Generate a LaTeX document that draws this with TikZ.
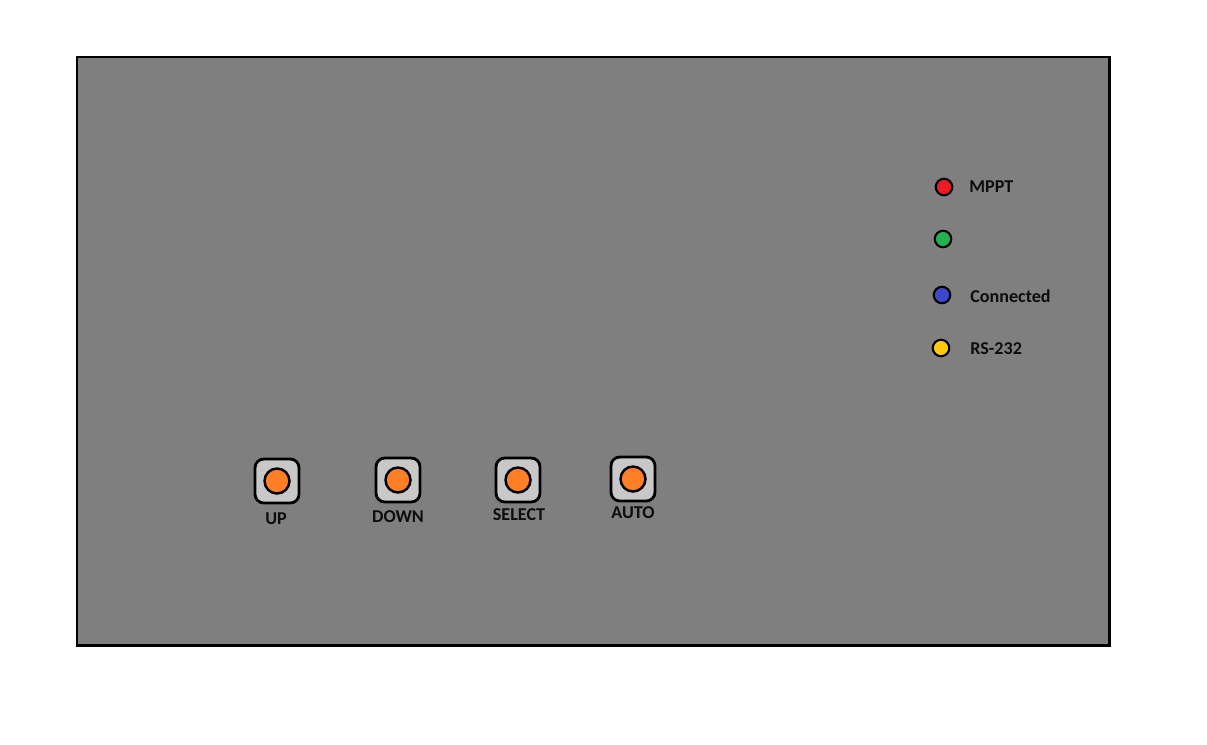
\documentclass[tikz,border=0pt]{standalone}
\usepackage{fontspec}
\setmainfont{Carlito}
\usetikzlibrary{positioning}
\definecolor{panel}{HTML}{7F7F7F}
\definecolor{keycap}{HTML}{C8C8C8}
\definecolor{keyorange}{HTML}{FF7F27}
\definecolor{ledred}{HTML}{ED1C24}
\definecolor{ledgreen}{HTML}{22B14C}
\definecolor{ledblue}{HTML}{3F48CC}
\definecolor{ledyellow}{HTML}{FFC90E}

\tikzset{
  keybox/.style={draw, line width=1.6pt, fill=keycap, rounded corners=5pt, minimum size=0.88cm, inner sep=0pt},
  keydot/.style={circle, draw, line width=1.4pt, fill=keyorange, minimum size=0.5cm, inner sep=0pt},
  led/.style={circle, draw, line width=1.2pt, minimum size=0.33cm, inner sep=0pt},
  lbl/.style={font=\bfseries\fontsize{10.3}{12}\selectfont, text=black!95, inner sep=0pt}
}

\begin{document}
\begin{tikzpicture}[x=0.02cm, y=-0.02cm]
  \useasboundingbox (0,0) rectangle (1207,744);
  \node[draw, line width=1.7pt, fill=panel, minimum width=20.66cm, minimum height=11.78cm, anchor=north west, inner sep=0pt] (pnl) at (75.5,55.5) {};

  % push buttons
  \node[keybox] (kup) at (277,481) {};
  \node[keydot] (dup) at (kup) {};
  \node[keybox] (kdown) at (398,480) {};
  \node[keydot] (ddown) at (kdown) {};
  \node[keybox] (ksel) at (518,480) {};
  \node[keydot] (dsel) at (ksel) {};
  \node[keybox] (kauto) at (633,479) {};
  \node[keydot] (dauto) at (kauto) {};

  \node[lbl] (tup) at (276,519) {UP};
  \node[lbl] (tdown) at (398,517) {DOWN};
  \node[lbl] (tsel) at (519,515) {SELECT};
  \node[lbl] (tauto) at (633,513) {AUTO};

  % status LEDs
  \node[led, fill=ledred] (lmppt) at (944,187) {};
  \node[led, fill=ledgreen] (lgreen) at (943,239) {};
  \node[led, fill=ledblue] (lconn) at (942,295) {};
  \node[led, fill=ledyellow] (lrs) at (941,348) {};

  \node[lbl, anchor=west] (tmppt) at (969,187) {MPPT};
  \node[lbl, anchor=west] (tconn) at (970,296) {Connected};
  \node[lbl, anchor=west] (trs) at (970,349) {RS-232};
\end{tikzpicture}
\end{document}
